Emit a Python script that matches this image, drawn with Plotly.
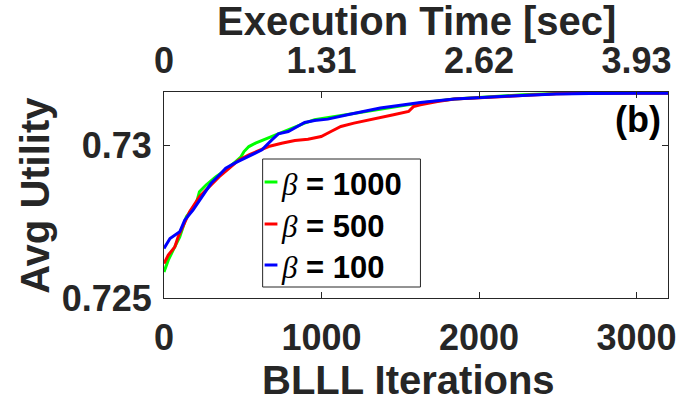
import plotly.graph_objects as go

# ---- data ----
green_x = [0, 27, 58, 100, 142, 205, 225, 267, 330, 392, 455, 487, 508, 539, 581, 643, 706, 789, 893, 956,
           1100, 1250, 1413, 1628, 1844, 2059, 2275, 2490, 2705, 3000, 3200]
green_y = [0.725856, 0.726240, 0.726569, 0.727007, 0.727665, 0.728104, 0.728488, 0.728707, 0.728981, 0.729201,
           0.729475, 0.729617, 0.729804, 0.729968, 0.730078, 0.730209, 0.730352, 0.730516, 0.730736, 0.730845,
           0.730960, 0.731080, 0.731230, 0.731400, 0.731525, 0.731600, 0.731665, 0.731705, 0.731725, 0.731730, 0.731730]

red_x = [0, 27, 69, 90, 163, 225, 288, 351, 413, 476, 539, 601, 664, 747, 831, 914, 998, 1060, 1123, 1206,
         1290, 1373, 1457, 1553, 1585, 1628, 1736, 1844, 1952, 2059, 2275, 2490, 2705, 3000, 3200]
red_y = [0.726131, 0.726405, 0.726679, 0.727007, 0.727830, 0.728323, 0.728652, 0.728981, 0.729256, 0.729530,
         0.729694, 0.729837, 0.729968, 0.730078, 0.730165, 0.730209, 0.730297, 0.730461, 0.730626, 0.730736,
         0.730823, 0.730900, 0.731010, 0.731119, 0.731284, 0.731339, 0.731448, 0.731525, 0.731558, 0.731591,
         0.731657, 0.731701, 0.731712, 0.731715, 0.731715]

blue_x = [0, 38, 100, 132, 184, 246, 299, 351, 392, 455, 539, 622, 685, 726, 789, 852, 893, 956, 1040, 1165,
          1269, 1373, 1478, 1628, 1844, 2059, 2275, 2490, 2705, 3000, 3200]
blue_y = [0.726623, 0.726953, 0.727172, 0.727556, 0.727885, 0.728378, 0.728762, 0.729036, 0.729256, 0.729442,
          0.729639, 0.729859, 0.730188, 0.730385, 0.730462, 0.730626, 0.730758, 0.730824, 0.730867, 0.731010,
          0.731120, 0.731229, 0.731306, 0.731415, 0.731525, 0.731591, 0.731646, 0.731689, 0.731711, 0.731712, 0.731712]

series_names = ["1000", "500", "100"]
series_colors = ["#00FF00", "#FF0000", "#0000FF"]

x_ticks = [0, 1000, 2000, 3000]
x_ticktext = ["0", "1000", "2000", "3000"]
top_ticktext = ["0", "1.31", "2.62", "3.93"]
y_ticks = [0.725, 0.73]
y_ticktext = ["0.725", "0.73"]

X_RANGE = [0, 3200]
Y_RANGE = [0.725, 0.731757]

W, H = 688, 404
L, R, T, B = 164, 13, 92, 106
PW, PH = W - L - R, H - T - B

def px(xp):
    return (xp - L) / PW

def py(yp):
    return (H - B - yp) / PH

AX = "#262626"
FONT = "Liberation Sans, Arial, sans-serif"

fig = go.Figure()
# the blue series is drawn against the top axis (same range) so that axis is rendered
for xs, ys, c, xa in zip([green_x, red_x, blue_x], [green_y, red_y, blue_y], series_colors, ["x", "x", "x2"]):
    fig.add_trace(go.Scatter(x=xs, y=ys, mode="lines", line=dict(color=c, width=3),
                             xaxis=xa, yaxis="y", showlegend=False, hoverinfo="skip"))

axis_common = dict(showgrid=False, zeroline=False, showline=True, linecolor=AX, linewidth=1,
                   ticks="inside", ticklen=6, tickcolor=AX, tickwidth=1,
                   tickfont=dict(family=FONT, size=36, color=AX, weight="bold"))

fig.update_layout(
    width=W, height=H,
    margin=dict(l=L, r=R, t=T, b=B, pad=0),
    plot_bgcolor="white", paper_bgcolor="white",
    xaxis=dict(range=X_RANGE, tickmode="array", tickvals=x_ticks, ticktext=x_ticktext,
               mirror="ticks", ticklabelstandoff=8, **axis_common),
    xaxis2=dict(range=X_RANGE, overlaying="x", side="top", anchor="y", tickmode="array",
                tickvals=x_ticks, ticktext=top_ticktext, ticklabelstandoff=4, **axis_common),
    yaxis=dict(range=Y_RANGE, tickmode="array", tickvals=y_ticks, ticktext=y_ticktext,
               mirror="ticks", ticklabelstandoff=4, **axis_common),
)

ann = []
# axis titles
ann.append(dict(text="<b>BLLL Iterations</b>", x=px(412), y=py(380), xref="paper", yref="paper",
                showarrow=False, xanchor="center", yanchor="middle",
                font=dict(family=FONT, size=40, color=AX)))
ann.append(dict(text="<b>Execution Time [sec]</b>", x=px(420), y=py(21), xref="paper", yref="paper",
                showarrow=False, xanchor="center", yanchor="middle",
                font=dict(family=FONT, size=40, color=AX)))
ann.append(dict(text="<b>Avg Utility</b>", x=px(33), y=py(195), xref="paper", yref="paper",
                showarrow=False, xanchor="center", yanchor="middle", textangle=-90,
                font=dict(family=FONT, size=40, color=AX)))
# panel label
ann.append(dict(text="<b>(b)</b>", x=px(670), y=py(119), xref="paper", yref="paper",
                showarrow=False, xanchor="right", yanchor="middle",
                font=dict(family=FONT, size=36, color="black")))

# custom legend
shapes = [dict(type="rect", xref="paper", yref="paper", x0=px(264), x1=px(424), y0=py(287), y1=py(159),
               line=dict(color=AX, width=1), fillcolor="white", layer="above")]
rows = [182, 224, 265]
for name, c, yr in zip(series_names, series_colors, rows):
    shapes.append(dict(type="line", xref="paper", yref="paper", x0=px(266), x1=px(279),
                       y0=py(yr), y1=py(yr), line=dict(color=c, width=3), layer="above"))
    ann.append(dict(text='<span style="font-family:Liberation Serif;font-weight:normal"><i>β</i></span> <b>= '
                         + name + '</b>',
                    x=px(281), y=py(yr + 2), xref="paper", yref="paper", showarrow=False,
                    xanchor="left", yanchor="middle",
                    font=dict(family=FONT, size=31, color="black")))

fig.update_layout(annotations=ann, shapes=shapes)
fig.write_html("out.html")
